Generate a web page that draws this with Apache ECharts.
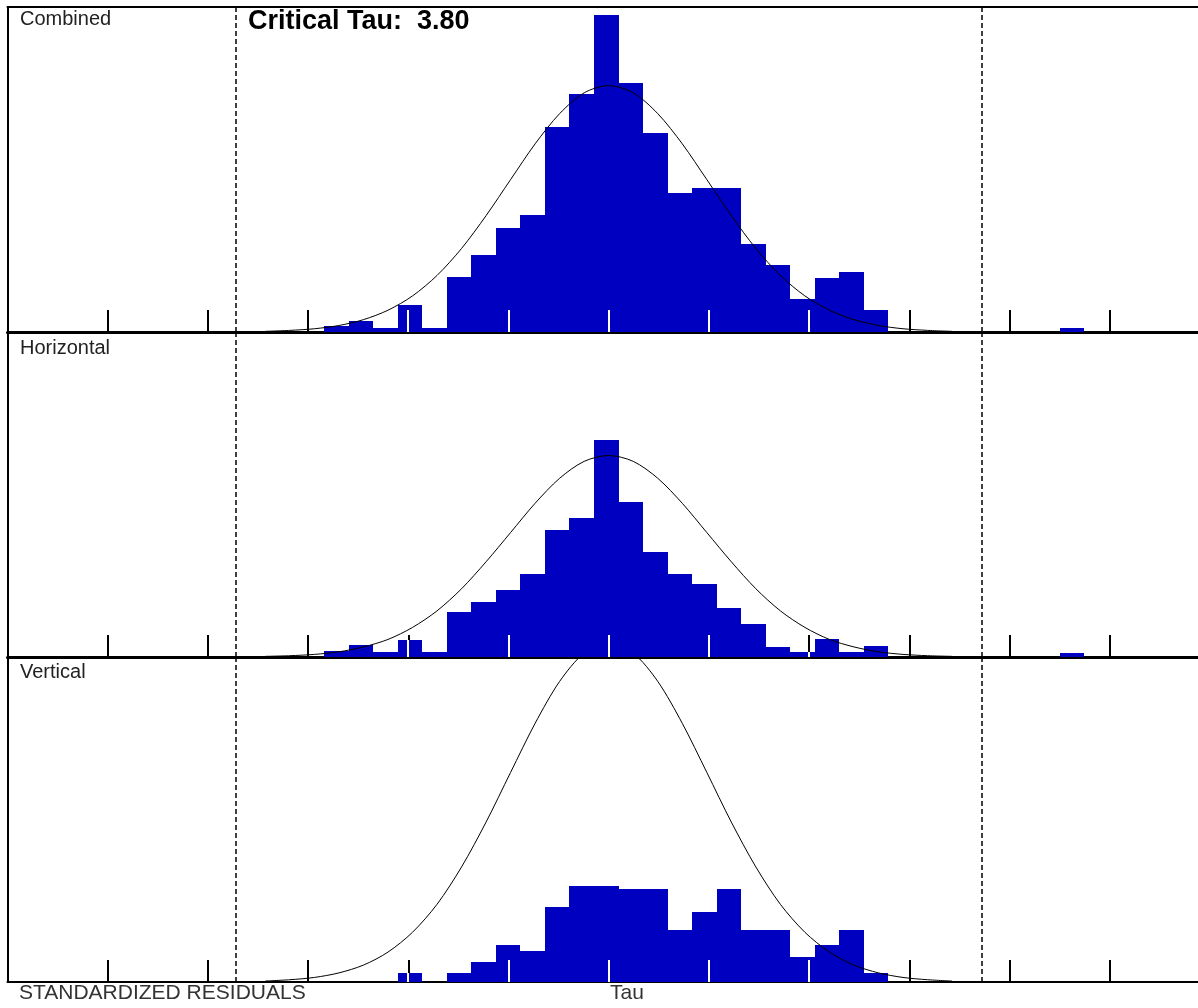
<!DOCTYPE html>
<html>
<head>
<meta charset="utf-8">
<title>Standardized Residuals</title>
<script src="https://cdn.jsdelivr.net/npm/echarts@6/dist/echarts.min.js"></script>
<style>
  html, body { margin: 0; padding: 0; background: #fff; }
  #chart { width: 1198px; height: 1008px; }
</style>
</head>
<body>
<div id="chart"></div>
<script>
// histogram bins, in Tau
const binStart = -2.9
const binWidth = 0.25

// bar heights per bin (frequency, panel full scale = 100)
const combinedCounts = [1.7, 3.4, 1.2, 8.2, 1.3, 16.9, 23.6, 32.0, 35.9, 63.1, 73.2, 97.4, 76.6, 61.2, 42.8, 44.4, 44.4, 27.2, 20.5, 10.1, 16.7, 18.5, 6.9, 0, 0, 0, 0, 0, 0, 0, 1.2]
const horizontalCounts = [1.8, 3.6, 1.5, 5.3, 1.5, 13.8, 16.9, 20.5, 25.5, 39.0, 42.8, 66.7, 47.7, 32.3, 25.5, 22.5, 15.1, 10.2, 3.2, 1.5, 5.4, 1.5, 3.3, 0, 0, 0, 0, 0, 0, 0, 1.2]
const verticalCounts = [0, 0, 0, 2.8, 0, 2.8, 6.2, 11.3, 9.4, 23.0, 29.6, 29.6, 28.6, 28.6, 16.1, 21.6, 28.6, 16.1, 16.1, 7.7, 11.3, 16.1, 2.8, 0, 0, 0, 0, 0, 0, 0, 0]

// normal curves
const curveTau = [-3.5, -3.25, -3, -2.75, -2.5, -2.25, -2, -1.75, -1.5, -1.25, -1, -0.75, -0.5, -0.25, 0, 0.25, 0.5, 0.75, 1, 1.25, 1.5, 1.75, 2, 2.25, 2.5, 2.75, 3, 3.25, 3.5]
const combinedCurve = [0.2, 0.5, 1.0, 2.0, 3.8, 6.7, 11.1, 17.4, 25.7, 35.8, 46.9, 57.9, 67.2, 73.6, 75.8, 73.6, 67.2, 57.9, 46.9, 35.8, 25.7, 17.4, 11.1, 6.7, 3.8, 2.0, 1.0, 0.5, 0.2]
const horizontalCurve = [0.2, 0.4, 0.8, 1.6, 3.1, 5.4, 9.1, 14.2, 21.0, 29.3, 38.3, 47.3, 55.0, 60.2, 62.0, 60.2, 55.0, 47.3, 38.3, 29.3, 21.0, 14.2, 9.1, 5.4, 3.1, 1.6, 0.8, 0.4, 0.2]
const verticalCurve = [0.3, 0.7, 1.4, 2.8, 5.2, 9.2, 15.3, 23.9, 35.4, 49.2, 64.5, 79.6, 92.5, 101.2, 104.3, 101.2, 92.5, 79.6, 64.5, 49.2, 35.4, 23.9, 15.3, 9.2, 5.2, 2.8, 1.4, 0.7, 0.3]

const criticalTau = 3.8
const panelNames = ['Combined', 'Horizontal', 'Vertical']

// axis layout
const X_MIN = -6.12846
const X_MAX = 6.0071
const TICK_STEP = 1.02141
const TICK_LEN = 22
const BAR_COLOR = '#0000C0'
const FONT = '"Liberation Sans", Arial, sans-serif'

const panels = [
  { name: panelNames[0], counts: combinedCounts, curve: combinedCurve, top: 7, axisWidth: 3, labelY: 19 },
  { name: panelNames[1], counts: horizontalCounts, curve: horizontalCurve, top: 332, axisWidth: 3, labelY: 348 },
  { name: panelNames[2], counts: verticalCounts, curve: verticalCurve, top: 657, axisWidth: 2, labelY: 672 }
]

// tick marks, one per step from the left edge
const tickValues = []
for (let k = -6; k <= 5; k++) tickValues.push(+(k * TICK_STEP).toFixed(5))

let chartInstance = null

/**
 * Histogram bar, with the axis ticks drawn white where they cross it
 */
const renderBin = (params, api) => {
  const x0 = api.value(0)
  const x1 = api.value(1)
  const h = api.value(2)
  const p0 = api.coord([x0, 0])
  const p1 = api.coord([x1, h])
  const left = Math.round(p0[0])
  const right = Math.round(p1[0])
  const base = Math.round(p0[1])
  const top = Math.round(p1[1])
  const barH = base - top
  const children = [{
    type: 'rect',
    shape: { x: left, y: top, width: right - left, height: barH },
    style: { fill: BAR_COLOR }
  }]
  tickValues.forEach(t => {
    if (t > x0 && t < x1) {
      const px = Math.round(api.coord([t, 0])[0])
      children.push({
        type: 'line',
        shape: { x1: px, y1: base, x2: px, y2: base - Math.min(TICK_LEN, barH) },
        style: { stroke: '#fff', lineWidth: 2 }
      })
    }
  })
  return { type: 'group', children }
}

const initChart = () => {
  chartInstance = echarts.init(document.getElementById('chart'))

  const grid = panels.map(p => ({ left: 7.5, right: 0, top: p.top, height: 325 }))

  const xAxis = panels.map((p, i) => ({
    type: 'value',
    gridIndex: i,
    min: X_MIN,
    max: X_MAX,
    axisLine: { onZero: false, lineStyle: { color: '#000', width: p.axisWidth } },
    axisTick: { inside: true, length: TICK_LEN, customValues: tickValues, lineStyle: { color: '#000', width: 2 } },
    axisLabel: { show: false },
    splitLine: { show: false }
  }))
  // top frame line
  xAxis.push({
    type: 'value',
    gridIndex: 0,
    position: 'top',
    min: X_MIN,
    max: X_MAX,
    axisLine: { onZero: false, lineStyle: { color: '#000', width: 2 } },
    axisTick: { show: false },
    axisLabel: { show: false },
    splitLine: { show: false }
  })

  const yAxis = panels.map((p, i) => ({
    type: 'value',
    gridIndex: i,
    min: 0,
    max: 100,
    axisLine: { show: true, onZero: false, lineStyle: { color: '#000', width: 2 } },
    axisTick: { show: false },
    axisLabel: { show: false },
    splitLine: { show: false }
  }))

  const series = []
  panels.forEach((p, i) => {
    const bins = []
    p.counts.forEach((c, j) => {
      if (c > 0) bins.push([binStart + j * binWidth, binStart + (j + 1) * binWidth, c])
    })
    series.push({
      name: p.name,
      type: 'custom',
      xAxisIndex: i,
      yAxisIndex: i,
      z: 2,
      renderItem: renderBin,
      data: bins
    })
    series.push({
      name: p.name + ' normal',
      type: 'line',
      xAxisIndex: i,
      yAxisIndex: i,
      z: 3,
      smooth: 0.3,
      showSymbol: false,
      clip: true,
      lineStyle: { color: '#000', width: 1 },
      data: curveTau.map((x, j) => [x, p.curve[j]]),
      markLine: {
        silent: true,
        symbol: 'none',
        label: { show: false },
        lineStyle: { color: '#000', type: [5, 3], width: 1.5 },
        data: [{ xAxis: -criticalTau }, { xAxis: criticalTau }]
      }
    })
  })

  const graphic = panels.map(p => ({
    type: 'text',
    left: 20,
    top: p.labelY - 10,
    style: { text: p.name, font: '20px ' + FONT, fill: '#222' }
  }))
  graphic.push(
    {
      type: 'text',
      left: 248,
      top: 8,
      style: { text: 'Critical Tau:  ' + criticalTau.toFixed(2), font: 'bold 27px ' + FONT, fill: '#000' }
    },
    {
      type: 'text',
      left: 19,
      top: 983,
      style: { text: 'STANDARDIZED RESIDUALS', font: '21px ' + FONT, fill: '#333' }
    },
    {
      type: 'text',
      left: 610,
      top: 983,
      style: { text: 'Tau', font: '21px ' + FONT, fill: '#333' }
    }
  )

  const option = {
    animation: false,
    backgroundColor: '#fff',
    grid,
    xAxis,
    yAxis,
    series,
    graphic
  }

  chartInstance.setOption(option)
}

const handleResize = () => {
  chartInstance && chartInstance.resize()
}

initChart()
window.addEventListener('resize', handleResize)
</script>
</body>
</html>
